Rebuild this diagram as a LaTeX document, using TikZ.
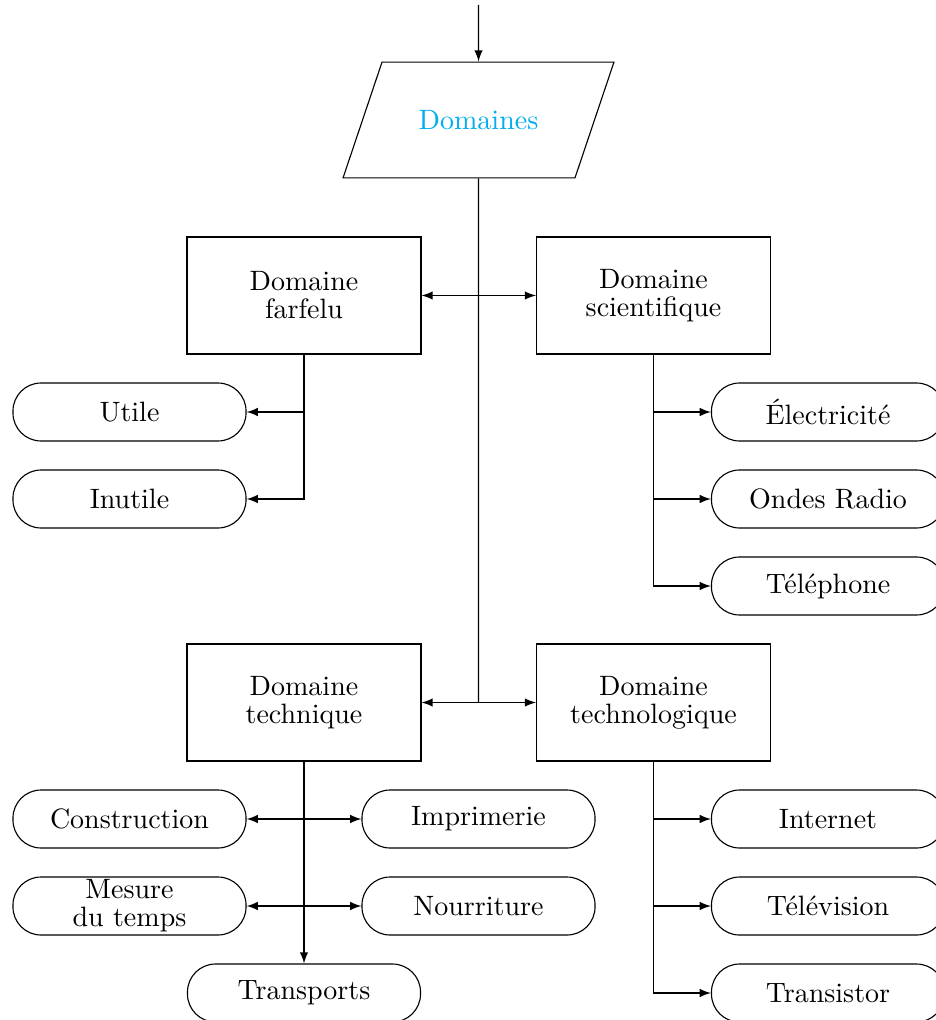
\documentclass[tikz,border=0pt]{standalone}
\usepackage{tikz}
\usetikzlibrary{shapes.geometric}

\begin{document}
\begin{tikzpicture}[x=0.357pt,y=-0.357pt,>=latex,
    font=\fontsize{10}{10}\selectfont,
    box/.style={draw,align=center,minimum width=83.5pt,minimum height=41.8pt},
    pill/.style={draw,align=center,rounded corners=10pt,inner ysep=0pt,minimum width=83.2pt,minimum height=20.7pt},
    para/.style={draw,shape=trapezium,trapezium left angle=71.4,trapezium right angle=108.6,
        inner xsep=13.1pt,inner ysep=17.2pt,text=cyan}]
    \useasboundingbox (0,0) rectangle (935,1020);

    % Domaines
    \coordinate (entree) at (478.5,5);
    \node[para] (dom) at (478.5,120) {Domaines};
    \draw[->] (entree) -- (dom.north);

    % Domain boxes
    \node[box] (farfelu) at (304,295.5) {Domaine\\farfelu};
    \node[box] (scient) at (653.5,295.5) {Domaine\\scientifique};
    \node[box] (techni) at (304,702.5) {Domaine\\technique};
    \node[box] (techno) at (653.5,702.5) {Domaine\\technologique};

    % Main trunk
    \coordinate (bas) at (478.5,702.5);
    \draw (dom.south) -- (bas);
    \draw[<->] (farfelu) -- (scient);
    \draw[<->] (techni) -- (techno);

    % Farfelu
    \node[pill] (utile) at (129.5,412) {Utile};
    \node[pill] (inutile) at (129.5,499) {Inutile};
    \draw[->] (farfelu.south) |- (utile);
    \draw[->] (farfelu.south) |- (inutile);

    % Scientifique
    \node[pill] (elec) at (828,412) {Électricité};
    \node[pill] (ondes) at (828,499) {Ondes Radio};
    \node[pill] (telephone) at (828,586) {Téléphone};
    \draw[->] (scient.south) |- (elec);
    \draw[->] (scient.south) |- (ondes);
    \draw[->] (scient.south) |- (telephone);

    % Technique
    \node[pill] (constr) at (129.5,819) {Construction};
    \node[pill] (mesure) at (129.5,906) {Mesure\\du temps};
    \node[pill] (impr) at (478.5,819) {Imprimerie};
    \node[pill] (nourr) at (478.5,906) {Nourriture};
    \node[pill] (transp) at (304,993) {Transports};
    \draw[->] (techni) -- (transp);
    \draw[<->] (constr) -- (impr);
    \draw[<->] (mesure) -- (nourr);

    % Technologique
    \node[pill] (internet) at (828,819) {Internet};
    \node[pill] (tele) at (828,906) {Télévision};
    \node[pill] (transi) at (828,993) {Transistor};
    \draw[->] (techno.south) |- (internet);
    \draw[->] (techno.south) |- (tele);
    \draw[->] (techno.south) |- (transi);
\end{tikzpicture}
\end{document}
